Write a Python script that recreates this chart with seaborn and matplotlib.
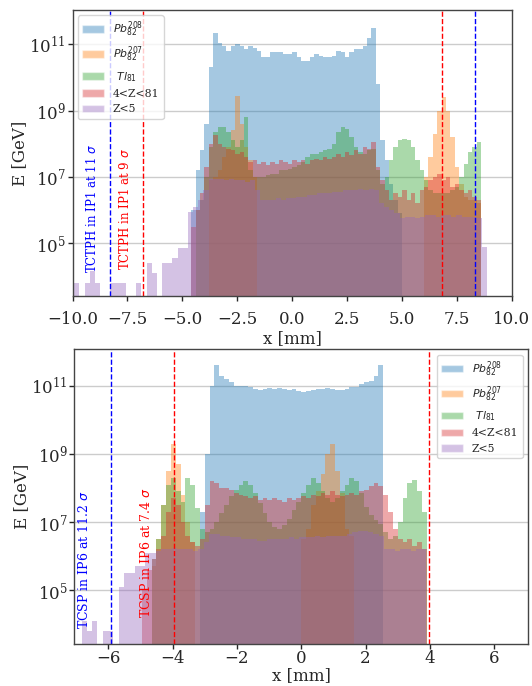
import numpy as np
import matplotlib
matplotlib.use("Agg")
import matplotlib.pyplot as plt
from matplotlib.patches import Patch
from matplotlib.ticker import NullLocator
import seaborn as sns

# species (legend order = drawing order)
labels = [r'$Pb^{208}_{82}$', r'$Pb^{207}_{82}$', r' $Tl_{81}$', '4<Z<81', 'Z<5']

# ---- top panel: IP1, log10(E / GeV) per bin, None = empty bin ----
top_bw = 0.2
top_pb208_x0 = -4.6
top_pb208 = [6.0, 7.2, 7.8, 8.6, 10.3, 11.35, 11.05, 10.95, 10.8, 10.95,
             11.0, 10.95, 10.85, 10.95, 10.9, 10.8, 10.6, 10.6, 10.75, 10.75,
             10.75, 10.7, 10.7, 10.75, 10.6, 10.5, 10.5, 10.6, 10.7, 10.65,
             10.6, 10.6, 10.65, 10.8, 10.75, 10.6, 10.75, 10.85, 10.85, 10.95,
             11.2, 11.5, 9.8, 8.1, 7.5, 6.8, 6.3, 5.9]
top_pb207_x0 = -3.8
top_pb207 = ([6.9, 7.0, 7.2, 7.6, 7.9, 8.4, 9.45, 8.6, 7.9, 7.5, 7.0]
             + [None] * 38
             + [7.0, 7.6, 8.3, 9.0, 9.4, 9.0, 8.2, 7.3, 6.8, 6.4, 6.3, 6.3, 6.2])
top_tl_x0 = -4.4
top_tl = [6.0, 6.3, 7.0, 7.9, 8.35, 8.5, 8.5, 8.35, 8.1, 7.9,
          8.1, 8.8, 7.2, 7.0, 7.0, 7.0, 7.05, 7.1, 7.1, 7.2,
          7.2, 7.25, 7.3, 7.35, 7.45, 7.6, 7.7, 7.7, 7.75, 7.8,
          7.85, 8.0, 8.35, 8.5, 8.45, 8.2, 7.9, 7.75, 7.7, 7.8,
          7.85, 7.2, 6.8, 7.0, 7.5, 7.9, 8.1, 8.15, 8.1, 7.9,
          7.5, 7.2, 6.9, 6.6, 6.5, 6.5, 6.5, 6.5, 6.6, 6.7,
          7.0, 7.4, 7.75, 7.9, 8.05]
top_mid_x0 = -4.6
top_mid = [5.5, 6.0, 6.5, 7.3, 8.0, 8.25, 8.0, 7.9, 7.85, 7.8,
           7.7, 7.75, 7.6, 7.45, 7.5, 7.4, 7.45, 7.35, 7.45, 7.4,
           7.5, 7.45, 7.4, 7.5, 7.45, 7.5, 7.4, 7.5, 7.55, 7.5,
           7.6, 7.55, 7.6, 7.7, 7.6, 7.75, 7.65, 7.8, 7.7, 7.9,
           7.85, 8.05, 7.3, 6.9, 6.6, 6.3, 6.5, 6.4, 6.6, 6.3,
           6.5, 6.2, 6.6, 6.7, 6.9, 7.0, 7.1, 6.9, 7.0, 6.7,
           6.8, 6.6, 6.5, 6.6, 6.4, 6.3]
top_light_bw = 0.235
top_light_x0 = -9.92
top_light = [3.8, None, 3.8, 4.15, 3.8, None, None, 3.8, 3.8, 3.8,
             None, None, 3.8, None, 4.4, 4.1, None, 4.4, 4.4, 4.55,
             4.85, 4.85, 5.95, 6.1, 6.3, 6.6, 6.95, 6.95, 6.95, 6.9,
             6.95, 6.9, 6.9, 6.85, 6.9, 6.6, 6.3, 6.3, 6.3, 6.35,
             6.3, 6.35, 6.35, 6.4, 6.4, 6.45, 6.45, 6.5, 6.5, 6.5,
             6.55, 6.55, 6.6, 6.6, 6.6, 6.65, 6.6, 6.65, 6.6, 6.2,
             6.1, 6.0, 5.9, 5.75, 5.8, 5.8, 5.75, 5.8, 5.85, 5.85,
             5.8, 5.85, 5.85, 5.8, 5.85, 5.8, 5.8, 5.8, 5.75, 4.9]

# ---- bottom panel: IP6 ----
bot_bw = 0.15
bot_pb208_x0 = -3.15
bot_pb208 = [7.3, 9.0, 11.0, 11.6, 11.3, 11.2, 11.1, 11.0, 11.0, 10.98,
             10.95, 10.9, 10.88, 10.9, 10.92, 10.9, 10.92, 10.9, 10.88, 10.9,
             10.85, 10.82, 10.85, 10.88, 10.9, 10.9, 10.92, 10.9, 10.88, 10.87,
             10.9, 10.95, 10.97, 11.05, 11.1, 11.15, 11.3, 11.6]
bot_pb207_x0 = -4.65
bot_pb207 = ([5.7, 6.5, 7.5, 8.5, 9.3, 8.7, 7.8, 7.0, 6.4]
             + [None] * 22
             + [6.5, 6.8, 7.5, 7.9, 8.4, 9.0, 9.3, 8.5, 7.85, 6.8, 6.6])
bot_tl_x0 = -4.65
bot_tl = [5.9, 6.5, 7.5, 8.1, 8.3, 7.9, 7.6, 8.3, 8.1, 7.4,
          6.8, 6.7, 6.8, 7.0, 7.25, 7.5, 7.75, 7.95, 8.1, 8.2,
          8.1, 7.85, 7.55, 7.25, 7.0, 6.85, 6.8, 6.9, 7.1, 7.35,
          7.6, 7.85, 8.1, 8.28, 8.15, 7.9, 7.7, 7.6, 7.7, 7.9,
          8.1, 8.28, 8.2, 7.85, 7.45, 7.2, 7.05, 6.95, 6.7, 6.5,
          6.6, 7.0, 7.7, 8.15, 8.22, 7.9, 7.3]
bot_mid_x0 = -4.95
bot_mid = [5.0, 5.6, 5.9, 6.2, 6.6, 7.3, 7.7, 7.5, 7.0, 6.6,
           6.4, 6.3, 6.5, 7.5, 8.2, 8.15, 8.0, 8.0, 7.95, 7.85,
           7.8, 7.75, 7.7, 7.75, 7.65, 7.7, 7.65, 7.7, 7.65, 7.6,
           7.7, 7.65, 7.7, 7.75, 7.7, 7.8, 7.75, 7.85, 7.8, 7.9,
           7.8, 7.75, 7.8, 7.85, 7.8, 7.9, 7.95, 8.05, 8.15, 8.05,
           7.8, 7.3, 6.8, 6.5, 6.4, 6.5, 6.3, 6.4, 6.2]
bot_light_bw = 0.165
bot_light_x0 = -6.83
bot_light = [4.1, 3.8, 4.1, None, 3.8, 3.8, None, 5.1, 5.5, 5.5,
             5.7, 5.7, 6.1, 6.1, 6.15, 6.2, 6.2, 6.25, 6.2, 6.2,
             6.2, 6.15, 6.2, 6.4, 6.65, 6.65, 6.6, 6.6, 6.55, 6.55,
             6.5, 6.5, 6.5, 6.45, 6.45, 6.5, 6.5, 6.5, 6.5, 6.55,
             6.5, 6.55, 6.55, 6.55, 6.6, 6.55, 6.6, 6.6, 6.6, 6.6,
             6.65, 6.7, 6.75, 6.75, 6.7, 6.65, 6.6,
             6.2, 6.2, 6.15, 6.2, 6.2, 6.15, 6.2, 6.2]

# collimator positions [mm] and labels
top_cuts = [(-8.3, 'blue'), (8.3, 'blue'), (-6.8, 'red'), (6.8, 'red')]
top_notes = [(-9.12, 10**4.09, r'TCTPH in IP1 at 11 $\sigma$', 'blue'),
             (-7.6, 10**4.19, r'TCTPH in IP1 at 9 $\sigma$', 'red')]
bot_cuts = [(-5.93, 'blue'), (-3.96, 'red'), (3.96, 'red')]
bot_notes = [(-6.75, 10**3.85, r'TCSP in IP6 at 11.2 $\sigma$', 'blue'),
             (-4.83, 10**4.17, r'TCSP in IP6 at 7.4 $\sigma$', 'red')]

sns.set_theme(style='ticks')
plt.rcParams['font.family'] = 'serif'
plt.rcParams['font.serif'] = ['DejaVu Serif']
plt.rcParams['mathtext.fontset'] = 'dejavusans'

colors = sns.color_palette('tab10')[:5]
ALPHA = 0.4


def draw_series(ax, x0, bw, logs, color):
    vals = np.array([np.nan if v is None else v for v in logs], dtype=float)
    edges = x0 + bw * np.arange(len(vals) + 1)
    centers = 0.5 * (edges[:-1] + edges[1:])
    keep = ~np.isnan(vals)
    sns.histplot(x=centers[keep], weights=10 ** vals[keep], bins=list(edges), ax=ax,
                 color=color, alpha=ALPHA, linewidth=0, element='bars')


def style_panel(ax, xlim, ylim, cuts, notes, text_size, legend_loc, xpad, xlabelpad):
    ax.set_yscale('log')
    ax.set_xlim(*xlim)
    ax.set_ylim(*ylim)
    ax.set_yticks([1e5, 1e7, 1e9, 1e11])
    ax.yaxis.set_minor_locator(NullLocator())
    ax.grid(axis='y', color='#cccccc', linewidth=1)
    for x, c in cuts:
        ax.axvline(x, color=c, linestyle='--', linewidth=1)
    for x, y, s, c in notes:
        ax.text(x, y, s, rotation=90, color=c, fontsize=text_size,
                ha='center', va='bottom')
    ax.tick_params(labelsize=12, length=3.5, width=1)
    ax.tick_params(axis='x', pad=xpad)
    ax.tick_params(axis='y', pad=1.5)
    for s in ax.spines.values():
        s.set_color('#444444')
        s.set_linewidth(1)
    ax.set_xlabel('x [mm]', fontsize=12, labelpad=xlabelpad)
    ax.set_ylabel('E [GeV]', fontsize=12, labelpad=1)
    handles = [Patch(facecolor=c, alpha=ALPHA, label=l) for c, l in zip(colors, labels)]
    ax.legend(handles=handles, loc=legend_loc, fontsize=7.8)


fig = plt.figure(figsize=(5.32, 6.86), dpi=100)
ax_top = fig.add_axes([0.1363, 0.5685, 0.8261, 0.4169])
ax_bot = fig.add_axes([0.1400, 0.0608, 0.8524, 0.4300])

top_series = [(top_pb208_x0, top_bw, top_pb208), (top_pb207_x0, top_bw, top_pb207),
              (top_tl_x0, top_bw, top_tl), (top_mid_x0, top_bw, top_mid),
              (top_light_x0, top_light_bw, top_light)]
bot_series = [(bot_pb208_x0, bot_bw, bot_pb208), (bot_pb207_x0, bot_bw, bot_pb207),
              (bot_tl_x0, bot_bw, bot_tl), (bot_mid_x0, bot_bw, bot_mid),
              (bot_light_x0, bot_light_bw, bot_light)]

for (x0, bw, vals), c in zip(top_series, colors):
    draw_series(ax_top, x0, bw, vals, c)
for (x0, bw, vals), c in zip(bot_series, colors):
    draw_series(ax_bot, x0, bw, vals, c)

style_panel(ax_top, (-10, 10), (10**3.41, 10**12.03), top_cuts, top_notes, 8.5,
            'upper left', xpad=7.5, xlabelpad=1)
style_panel(ax_bot, (-7.05, 7.05), (10**3.41, 10**12.07), bot_cuts, bot_notes, 9,
            'upper right', xpad=0.5, xlabelpad=0)

fig.savefig('out.png', dpi=100)
